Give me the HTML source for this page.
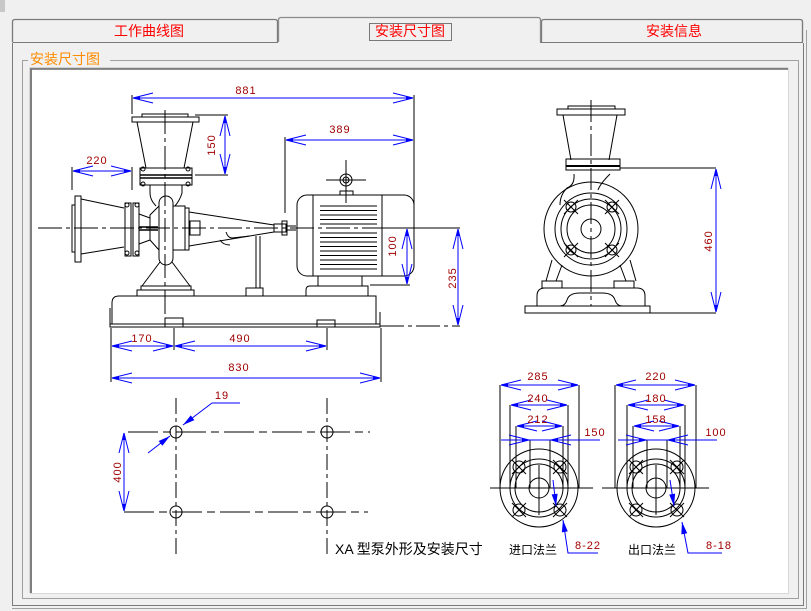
<!DOCTYPE html>
<html><head><meta charset="utf-8"><style>
html,body{margin:0;padding:0;background:#f0f0f0;width:811px;height:611px;overflow:hidden}
svg{display:block}
</style></head><body>
<svg width="811" height="611" viewBox="0 0 811 611" xmlns="http://www.w3.org/2000/svg" font-family="Liberation Sans, Noto Sans CJK SC, sans-serif">
<defs>
<marker id="a" markerUnits="userSpaceOnUse" orient="auto-start-reverse" markerWidth="30" markerHeight="30" refX="0" refY="0" viewBox="-25 -10 30 20" overflow="visible">
<path d="M0,0 L-20,-5 M0,0 L-20,5" stroke="#0000ff" stroke-width="1" fill="none"/>
<path d="M0,0 L-7,-1.8 L-7,1.8Z" fill="#0000ff"/>
</marker>
<marker id="f" markerUnits="userSpaceOnUse" orient="auto" markerWidth="20" markerHeight="20" refX="0" refY="0" viewBox="-15 -5 20 10" overflow="visible">
<path d="M0,0 L-12,-3 L-12,3Z" fill="#0000ff"/>
</marker>
</defs>
<!-- window chrome -->
<rect x="0" y="0" width="811" height="611" fill="#f0f0f0"/>
<rect x="0" y="0" width="5" height="12" fill="#c8c8c8"/>
<!-- tabs -->
<g fill="#f0f0f0" stroke="#7a7a7a" stroke-width="1.3">
<path d="M12.5,42 V22 Q12.5,19.5 15,19.5 H275 Q277.5,19.5 277.5,22 V42"/>
<path d="M541.5,42 V22 Q541.5,19.5 544,19.5 H800 Q802.5,19.5 802.5,22 V42"/>
</g>
<path d="M12.5,42.5 H278 M540,42.5 H803" stroke="#7a7a7a" stroke-width="1"/>
<path d="M278.5,42 V20 Q278.5,17.5 281,17.5 H538 Q540.5,17.5 540.5,20 V42" fill="#f0f0f0" stroke="#8a8a8a" stroke-width="1.3"/>
<g fill="#ff0000" font-size="14" text-anchor="middle">
<text x="149" y="36">工作曲线图</text>
<text x="410" y="36">安装尺寸图</text>
<text x="674" y="36">安装信息</text>
</g>
<rect x="369.5" y="23.5" width="82" height="17" fill="none" stroke="#000" stroke-width="1" stroke-dasharray="1 1"/>
<!-- panel -->
<path d="M12.5,43 V605.5 H803.5 V43" fill="none" stroke="#7a7a7a"/>
<path d="M806.5,30 V608.5 H12" fill="none" stroke="#a0a0a0"/>
<!-- group box -->
<rect x="22.5" y="60.5" width="776" height="538" fill="none" stroke="#a0a0a0"/>
<rect x="28" y="50" width="82" height="16" fill="#f0f0f0"/>
<text x="30" y="64" font-size="14" fill="#ff8c00">安装尺寸图</text>
<!-- white area -->
<rect x="30" y="68" width="758" height="525" fill="#fff"/>
<path d="M30.5,593 V68.5 H788" fill="none" stroke="#808080" stroke-width="1.5"/>
<path d="M31.5,593 V69.5 H788" fill="none" stroke="#404040" stroke-width="0.6"/>
<path d="M788.5,68 V593.5 H30" fill="none" stroke="#d8d8d8"/>

<!-- ============ SIDE VIEW ============ -->
<g stroke="#000" stroke-width="1" fill="none">
<!-- center lines -->
<path d="M38,228 H440" stroke-dasharray="24 4 4 4"/>
<path d="M165,110 V327" stroke-dasharray="24 4 4 4"/>
<!-- discharge -->
<rect x="142" y="114" width="46" height="3"/>
<rect x="132" y="117" width="67" height="5"/>
<path d="M137,122 L146,168 M193,122 L184,168"/>
<rect x="140" y="168" width="52" height="17"/>
<path d="M140,175 H192 M140,178 H192" stroke-width="1.5"/>
<circle cx="143" cy="169" r="2"/><circle cx="188" cy="169" r="2"/>
<circle cx="143" cy="184" r="2"/><circle cx="188" cy="184" r="2"/>
<path d="M150,185 V193 Q150,200 156,206 M182,185 V193 Q180,200 175,206"/>
<!-- volute -->
<rect x="159" y="196" width="14" height="69" rx="7"/>
<path d="M173,206 H185 V250 H173"/>
<path d="M159,206 L150,215 L150,240 L159,250"/>
<!-- suction -->
<rect x="72" y="205" width="3" height="47"/>
<rect x="75" y="196" width="6" height="66"/>
<path d="M81,199 L124,208 M81,254 L124,247"/>
<rect x="125" y="203" width="6" height="53"/>
<rect x="133" y="203" width="6" height="53"/>
<circle cx="127" cy="205" r="2"/><circle cx="137" cy="205" r="2"/>
<circle cx="127" cy="253" r="2"/><circle cx="137" cy="253" r="2"/>
<path d="M139,214 L150,218 M139,244 L150,240"/>
<path d="M139,227 H158 M139,230 H158" stroke-width="1.5"/>
<!-- bracket -->
<rect x="185" y="208" width="4" height="42"/>
<path d="M189,212 L274,225 M189,246 L274,232"/>
<rect x="190" y="221" width="10" height="14"/>
<path d="M226,232 Q228,238 232,238 L250,236 M220,240 Q223,245 230,245"/>
<!-- coupling -->
<rect x="274" y="224" width="12" height="8"/>
<rect x="282" y="221" width="5" height="14"/>
<path d="M287,226 H296 M287,230 H296"/>
<!-- support -->
<path d="M256,236 V288 M260,236 V288"/>
<rect x="246" y="288" width="17" height="8"/>
<!-- pump legs -->
<path d="M160,262 L142,286 M172,262 L190,286"/>
<rect x="141" y="286" width="50" height="4"/>
<rect x="137" y="290" width="57" height="6"/>
<!-- motor -->
<rect x="297" y="195" width="117" height="81" rx="10"/>
<path d="M313,195 V276 M382,195 V276"/>
<path d="M320,206 H377 M320,210.5 H377 M320,215 H377 M320,219.5 H377 M320,224 H377 M320,233 H377 M320,237.5 H377 M320,242 H377 M320,246.5 H377 M320,251 H377 M320,255.5 H377 M320,260 H377 M320,264.5 H377 M320,269 H377"/>
<circle cx="346" cy="180" r="6"/><circle cx="346" cy="180" r="3"/>
<path d="M326,180 H366 M346,160 V203"/>
<rect x="340" y="191" width="13" height="4"/>
<rect x="318" y="276" width="44" height="10"/>
<path d="M306,296 V290 Q306,286 310,286 H368 V296"/>
<!-- base -->
<path d="M112,324 V303 Q112,296 119,296 H376 V324"/>
<path d="M110,308 V327 M380,312 V327"/>
<rect x="110" y="324" width="270" height="3"/>
<rect x="165" y="318" width="18" height="9"/>
<rect x="317" y="320" width="18" height="7"/>
<path d="M380,326 H460" stroke-dasharray="24 4 4 4"/>
<!-- extension lines -->
<path d="M132,95 V114 M414,95 V212 M285,137 V213 M195,115 H228 M195,175 H228 M72,167 V190 M132,167 V190 M384,228 H412 M370,285 H410 M111,328 V382 M381,328 V382 M174,328 V350 M327,328 V350 M418,228 H460"/>
</g>
<!-- dimension lines -->
<g stroke="#0000ff" stroke-width="1" fill="none" marker-start="url(#a)" marker-end="url(#a)">
<path d="M133,98 H413"/>
<path d="M286,140 H413"/>
<path d="M225,116 V174"/>
<path d="M73,171 H131"/>
<path d="M407,229 V284"/>
<path d="M458,229 V325"/>
<path d="M112,346 H173"/>
<path d="M175,346 H326"/>
<path d="M112,378 H380"/>
<path d="M716,169 V312"/>
<path d="M124,433 V511"/>
</g>
<g fill="#a00000" font-size="11" letter-spacing="1" text-anchor="middle">
<text x="246" y="94">881</text>
<text x="340" y="133">389</text>
<text x="97" y="164">220</text>
<text x="142" y="342">170</text>
<text x="240" y="342">490</text>
<text x="239" y="371">830</text>
<text transform="translate(215,145) rotate(-90)">150</text>
<text transform="translate(396,246) rotate(-90)">100</text>
<text transform="translate(456,278) rotate(-90)">235</text>
<text transform="translate(712,241) rotate(-90)">460</text>
<text transform="translate(121,472) rotate(-90)">400</text>
</g>

<!-- ============ FRONT VIEW ============ -->
<g stroke="#000" stroke-width="1" fill="none">
<path d="M591,100 V306" stroke-dasharray="22 4 4 4"/>
<rect x="568" y="106" width="47" height="3"/>
<rect x="557" y="109" width="68" height="6"/>
<path d="M563,115 L571,160 M617,115 L609,160"/>
<rect x="566" y="159" width="54" height="11"/>
<path d="M566,166 H620" stroke-width="2"/>
<path d="M620,168 H716 M612,313 H716"/>
<path d="M574,174 Q575,185 567,188 Q560,195 560,205 M610,174 Q600,184 598,190"/>
<circle cx="591" cy="229" r="47"/>
<circle cx="591" cy="229" r="36"/>
<circle cx="591" cy="229" r="30"/>
<circle cx="591" cy="229" r="24"/>
<circle cx="591" cy="229" r="10"/>
<g>
<circle cx="571" cy="207" r="5"/><circle cx="612" cy="207" r="5"/>
<circle cx="571" cy="250" r="5"/><circle cx="612" cy="250" r="5"/>
<path d="M564,200 L578,214 M578,200 L564,214 M605,200 L619,214 M619,200 L605,214 M564,243 L578,257 M578,243 L564,257 M605,243 L619,257 M619,243 L605,257"/>
</g>
<path d="M552,260 L546,281 M630,260 L636,281 M562,265 L556,281 M620,265 L626,281"/>
<rect x="542" y="281" width="20" height="7"/>
<rect x="614" y="281" width="20" height="7"/>
<path d="M537,306 V296 Q537,288 545,288 H637 Q645,288 645,296 V306"/>
<path d="M560,306 Q565,306 567,300 Q569,293 580,293 H602 Q613,293 615,300 Q617,306 622,306"/>
<rect x="525" y="306" width="125" height="7"/>
</g>

<!-- ============ HOLE LAYOUT ============ -->
<g stroke="#000" stroke-width="1" fill="none">
<path d="M176,398 V558 M327,398 V558" stroke-dasharray="16 4 4 4"/>
<path d="M128,432 H370 M124,512 H368" stroke-dasharray="30 5 8 5"/>
<circle cx="176" cy="432" r="6"/><circle cx="327" cy="432" r="6"/>
<circle cx="176" cy="512" r="6"/><circle cx="327" cy="512" r="6"/>
</g>
<g stroke="#0000ff" fill="none">
<path d="M212,403 H240"/>
<path d="M212,403 L183,425" marker-end="url(#f)"/>
<path d="M148,453 L170,436" marker-end="url(#f)"/>
</g>
<text x="222" y="399" font-size="11" fill="#a00000" text-anchor="middle" letter-spacing="1">19</text>

<!-- ============ FLANGES ============ -->
<g stroke="#000" stroke-width="1" fill="none">
<!-- inlet -->
<path d="M500,385 V488 M510,405 V488 M516,426 V488 M530,440 V488 M550,440 V488 M563,426 V488 M568,405 V488 M579,385 V488"/>
<path d="M490,488 H593"/>
<path d="M539,465 V515"/>
<circle cx="539" cy="488" r="39"/>
<circle cx="539" cy="488" r="29"/>
<circle cx="539" cy="488" r="24"/>
<circle cx="539" cy="488" r="10"/>
<circle cx="519" cy="467" r="6"/><circle cx="560" cy="467" r="6"/>
<circle cx="519" cy="510" r="6"/><circle cx="560" cy="510" r="6"/>
<path d="M512,460 L526,474 M526,460 L512,474 M553,460 L567,474 M567,460 L553,474 M512,503 L526,517 M526,503 L512,517 M553,503 L567,517 M567,503 L553,517"/>
<!-- outlet -->
<path d="M615,385 V488 M627,405 V488 M633,426 V488 M647,440 V488 M667,440 V488 M680,426 V488 M685,405 V488 M696,385 V488"/>
<path d="M602,488 H709"/>
<path d="M656,465 V515"/>
<circle cx="656" cy="488" r="39"/>
<circle cx="656" cy="488" r="29"/>
<circle cx="656" cy="488" r="24"/>
<circle cx="656" cy="488" r="10"/>
<circle cx="636" cy="467" r="6"/><circle cx="677" cy="467" r="6"/>
<circle cx="636" cy="510" r="6"/><circle cx="677" cy="510" r="6"/>
<path d="M629,460 L643,474 M643,460 L629,474 M670,460 L684,474 M684,460 L670,474 M629,503 L643,517 M643,503 L629,517 M670,503 L684,517 M684,503 L670,517"/>
</g>
<g stroke="#0000ff" stroke-width="1" fill="none">
<path d="M501,385 H578" marker-start="url(#a)" marker-end="url(#a)"/>
<path d="M511,405 H567" marker-start="url(#a)" marker-end="url(#a)"/>
<path d="M517,426 H562" marker-start="url(#a)" marker-end="url(#a)"/>
<path d="M501,440 H600"/>
<path d="M515,440 H529" marker-end="url(#a)"/>
<path d="M565,440 H551" marker-end="url(#a)"/>
<path d="M616,385 H695" marker-start="url(#a)" marker-end="url(#a)"/>
<path d="M628,405 H684" marker-start="url(#a)" marker-end="url(#a)"/>
<path d="M634,426 H679" marker-start="url(#a)" marker-end="url(#a)"/>
<path d="M618,440 H717"/>
<path d="M632,440 H646" marker-end="url(#a)"/>
<path d="M682,440 H668" marker-end="url(#a)"/>
<path d="M598,553 H568 L563,520" marker-end="url(#f)"/>
<path d="M553,480 L556,506" marker-end="url(#f)"/>
<path d="M722,553 H688 L682,522" marker-end="url(#f)"/>
<path d="M670,480 L674,506" marker-end="url(#f)"/>
</g>
<g fill="#a00000" font-size="11" letter-spacing="1" text-anchor="middle">
<text x="538" y="380">285</text>
<text x="538" y="402">240</text>
<text x="538" y="423">212</text>
<text x="595" y="436">150</text>
<text x="656" y="380">220</text>
<text x="656" y="402">180</text>
<text x="656" y="423">158</text>
<text x="716" y="436">100</text>
<text x="588" y="549">8-22</text>
<text x="719" y="549">8-18</text>
</g>
<g fill="#000">
<text x="335" y="554" font-size="14">XA 型泵外形及安装尺寸</text>
<text x="509" y="554" font-size="12">进口法兰</text>
<text x="628" y="554" font-size="12">出口法兰</text>
</g>
</svg>
</body></html>
